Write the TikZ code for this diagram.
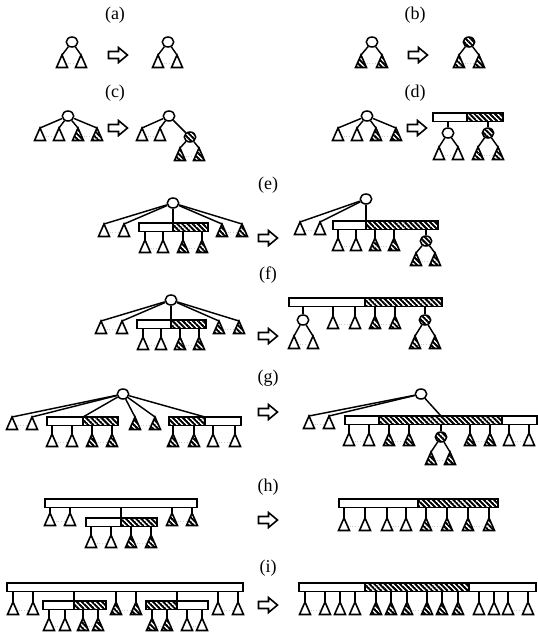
\documentclass[tikz,border=0pt]{standalone}
\usepackage{fontspec}
\setmainfont{Liberation Serif}
\usetikzlibrary{shapes.geometric,patterns.meta}
\tikzdeclarepattern{
  name=hatch,
  type=uncolored,
  bounding box={(0pt,-1pt) and (3.6pt,1pt)},
  tile size={(3.6pt,3.6pt)},
  tile transformation={rotate=-45},
  code={\pgfsetlinewidth{2pt}\pgfpathmoveto{\pgfqpoint{0pt}{0pt}}\pgfpathlineto{\pgfqpoint{3.6pt}{0pt}}\pgfusepath{stroke}}
}
\tikzset{
  tri/.style={line width=1.6pt, fill=white},
  htri/.style={line width=1.6pt, pattern=hatch},
  circ/.style={draw, ellipse, line width=1.5pt, minimum width=11.5pt, minimum height=10pt, inner sep=0pt, fill=white},
  hcirc/.style={circ, pattern=hatch},
  wbar/.style={draw, rectangle, line width=1.5pt, inner sep=0pt, outer sep=0pt, minimum height=8.5pt, fill=white},
  hbar/.style={wbar, pattern=hatch},
  edge/.style={line width=1.45pt},
  gap/.style={draw=gray!40, dotted, line width=0.7pt},
  lab/.style={font=\fontsize{18}{20}\selectfont, inner sep=0pt},
  blk/.style={line width=1.6pt, line join=miter, fill=white}
}
\newcommand\Tri[3]{\coordinate (#1) at (#2,#3); \draw[tri] (#1) -- ++(5.5,12.5) -- ++(-11,0) -- cycle;}
\newcommand\HTri[3]{\coordinate (#1) at (#2,#3); \draw[htri] (#1) -- ++(5.5,12.5) -- ++(-11,0) -- cycle;}
\newcommand\Gap[2]{\draw[gap] ([shift={(5.5,8.5)}]#1) -- ([shift={(-5.5,8.5)}]#2);}
\newcommand\Bar[5]{\node[#5, minimum width={(#3-#2)*1pt}, anchor=north west] (#1) at (#2,#4) {};}
\newcommand\E[2]{\draw[edge] (#1) -- (#2);}
\newcommand\V[2]{\draw[edge] (#1 |- #2.south) -- (#1);}
\newcommand\U[2]{\draw[edge] (#1) -- (#1 |- #2.north);}
\newcommand\Arr[3]{\coordinate (#1) at (#2,#3); \draw[blk] (#1) ++(-9.5,-3.5) -- ++(10,0) -- ++(0,-4) -- ++(9,7.5) -- ++(-9,7.5) -- ++(0,-4) -- ++(-10,0) -- cycle;}
\begin{document}
\begin{tikzpicture}[x=1pt,y=-1pt]
\useasboundingbox (0,0) rectangle (538,632);

% ---------- (a)
\node[lab] (La) at (115,15) {(a)};
\node[circ] (a1) at (72,42) {};
\E{a1}{62,55}\E{a1}{81,55}
\Tri{a1l}{62}{55}\Tri{a1r}{81}{55}\Gap{a1l}{a1r}
\Arr{arra}{118}{55}
\node[circ] (a2) at (168,42) {};
\E{a2}{158,55}\E{a2}{177,55}
\Tri{a2l}{158}{55}\Tri{a2r}{177}{55}\Gap{a2l}{a2r}

% ---------- (b)
\node[lab] (Lb) at (415,15) {(b)};
\node[circ] (b1) at (372,42) {};
\E{b1}{361,55}\E{b1}{382,55}
\HTri{b1l}{361}{55}\HTri{b1r}{382}{55}\Gap{b1l}{b1r}
\Arr{arrb}{418}{55}
\node[hcirc] (b2) at (469,42) {};
\E{b2}{459,55}\E{b2}{479,55}
\HTri{b2l}{459}{55}\HTri{b2r}{479}{55}\Gap{b2l}{b2r}

% ---------- (c)
\node[lab] (Lc) at (115,93) {(c)};
\node[circ] (c1) at (68,116) {};
\E{c1}{40,128}\E{c1}{59,128}\E{c1}{78,128}\E{c1}{97,128}
\Tri{c1a}{40}{128}\Tri{c1b}{59}{128}\HTri{c1c}{78}{128}\HTri{c1d}{97}{128}
\Gap{c1a}{c1b}\Gap{c1c}{c1d}
\Arr{arrc}{118}{128}
\node[circ] (c2) at (169,116) {};
\node[hcirc] (c2k) at (190,137) {};
\E{c2}{142,128}\E{c2}{160,128}\E{c2}{c2k}
\E{c2k}{180,148}\E{c2k}{199,148}
\Tri{c2a}{142}{128}\Tri{c2b}{160}{128}\HTri{c2c}{180}{148}\HTri{c2d}{199}{148}
\Gap{c2a}{c2b}\Gap{c2c}{c2d}

% ---------- (d)
\node[lab] (Ld) at (415,93) {(d)};
\node[circ] (d1) at (367,116) {};
\E{d1}{338,128}\E{d1}{357,128}\E{d1}{376,128}\E{d1}{396,128}
\Tri{d1a}{338}{128}\Tri{d1b}{357}{128}\HTri{d1c}{376}{128}\HTri{d1d}{396}{128}
\Gap{d1a}{d1b}\Gap{d1c}{d1d}
\Arr{arrd}{417}{128}
\Bar{d2W}{433}{467}{113}{wbar}\Bar{d2H}{467}{503}{113}{hbar}
\node[circ] (d2c) at (448,133) {};
\node[hcirc] (d2k) at (488,133) {};
\V{d2c}{d2W}\V{d2k}{d2H}
\E{d2c}{439,147}\E{d2c}{458,147}\E{d2k}{478,147}\E{d2k}{498,147}
\Tri{d2a}{439}{147}\Tri{d2b}{458}{147}\HTri{d2x}{478}{147}\HTri{d2y}{498}{147}
\Gap{d2a}{d2b}\Gap{d2x}{d2y}

% ---------- (e)
\node[lab] (Le) at (268,185) {(e)};
\node[circ] (e1) at (173,203) {};
\Bar{e1W}{139}{173}{223}{wbar}\Bar{e1H}{173}{208}{223}{hbar}
\U{e1}{e1H}
\E{e1}{104,224}\E{e1}{124,224}\E{e1}{222,224}\E{e1}{242,224}
\Tri{e1a}{104}{224}\Tri{e1b}{124}{224}\HTri{e1g}{222}{224}\HTri{e1h}{242}{224}
\coordinate (e1p) at (145,240);\coordinate (e1q) at (163,240);
\coordinate (e1r) at (183,240);\coordinate (e1s) at (202,240);
\V{e1p}{e1W}\V{e1q}{e1W}\V{e1r}{e1H}\V{e1s}{e1H}
\Tri{e1c}{145}{240}\Tri{e1d}{163}{240}\HTri{e1e}{183}{240}\HTri{e1f}{202}{240}
\Gap{e1a}{e1b}\Gap{e1c}{e1d}\Gap{e1e}{e1f}\Gap{e1g}{e1h}
\Arr{arre}{268}{238}
\node[circ] (e2) at (366,199) {};
\Bar{e2W}{333}{366}{221}{wbar}\Bar{e2H}{366}{438}{221}{hbar}
\U{e2}{e2H}
\E{e2}{300,222}\E{e2}{320,222}
\Tri{e2a}{300}{222}\Tri{e2b}{320}{222}
\coordinate (e2p) at (338,238);\coordinate (e2q) at (356,238);
\coordinate (e2r) at (375,238);\coordinate (e2s) at (394,238);
\V{e2p}{e2W}\V{e2q}{e2W}\V{e2r}{e2H}\V{e2s}{e2H}
\Tri{e2c}{338}{238}\Tri{e2d}{356}{238}\HTri{e2e}{375}{238}\HTri{e2f}{394}{238}
\node[hcirc] (e2k) at (426,241) {};
\V{e2k}{e2H}
\E{e2k}{416,253}\E{e2k}{435,253}
\HTri{e2g}{416}{253}\HTri{e2h}{435}{253}
\Gap{e2a}{e2b}\Gap{e2c}{e2d}\Gap{e2e}{e2f}\Gap{e2g}{e2h}

% ---------- (f)
\node[lab] (Lf) at (268,275) {(f)};
\node[circ] (f1) at (171,300) {};
\Bar{f1W}{137}{171}{320}{wbar}\Bar{f1H}{171}{206}{320}{hbar}
\U{f1}{f1H}
\E{f1}{101,321}\E{f1}{122,321}\E{f1}{219,321}\E{f1}{239,321}
\Tri{f1a}{101}{321}\Tri{f1b}{122}{321}\HTri{f1g}{219}{321}\HTri{f1h}{239}{321}
\coordinate (f1p) at (143,337);\coordinate (f1q) at (161,337);
\coordinate (f1r) at (180,337);\coordinate (f1s) at (199,337);
\V{f1p}{f1W}\V{f1q}{f1W}\V{f1r}{f1H}\V{f1s}{f1H}
\Tri{f1c}{143}{337}\Tri{f1d}{161}{337}\HTri{f1e}{180}{337}\HTri{f1f}{199}{337}
\Gap{f1a}{f1b}\Gap{f1c}{f1d}\Gap{f1e}{f1f}\Gap{f1g}{f1h}
\Arr{arrf}{268}{336}
\Bar{f2W}{289}{365}{298}{wbar}\Bar{f2H}{365}{442}{298}{hbar}
\node[circ] (f2c) at (303,320) {};
\node[hcirc] (f2k) at (425,320) {};
\V{f2c}{f2W}\V{f2k}{f2H}
\E{f2c}{294,336}\E{f2c}{313,336}\E{f2k}{415,336}\E{f2k}{435,336}
\Tri{f2a}{294}{336}\Tri{f2b}{313}{336}\HTri{f2g}{415}{336}\HTri{f2h}{435}{336}
\coordinate (f2p) at (333,316);\coordinate (f2q) at (355,316);
\coordinate (f2r) at (375,316);\coordinate (f2s) at (395,316);
\V{f2p}{f2W}\V{f2q}{f2W}\V{f2r}{f2H}\V{f2s}{f2H}
\Tri{f2c1}{333}{316}\Tri{f2d}{355}{316}\HTri{f2e}{375}{316}\HTri{f2f}{395}{316}
\Gap{f2a}{f2b}\Gap{f2c1}{f2d}\Gap{f2e}{f2f}\Gap{f2g}{f2h}

% ---------- (g)
\node[lab] (Lg) at (268,378) {(g)};
\node[circ] (g1) at (123,394) {};
\Bar{g1W}{47}{83}{417}{wbar}\Bar{g1H}{83}{118}{417}{hbar}
\Bar{g2H}{169}{205}{417}{hbar}\Bar{g2W}{205}{241}{417}{wbar}
\E{g1}{12,417}\E{g1}{32,417}\E{g1}{g1H.north west}
\E{g1}{135,417}\E{g1}{155,417}\E{g1}{g2W.north west}
\Tri{g1a}{12}{417}\Tri{g1b}{32}{417}\HTri{g1c}{135}{417}\HTri{g1d}{155}{417}
\coordinate (g1p) at (52,434);\coordinate (g1q) at (72,434);
\coordinate (g1r) at (92,434);\coordinate (g1s) at (112,434);
\coordinate (g1t) at (173,434);\coordinate (g1u) at (194,434);
\coordinate (g1v) at (213,434);\coordinate (g1w) at (235,434);
\V{g1p}{g1W}\V{g1q}{g1W}\V{g1r}{g1H}\V{g1s}{g1H}
\V{g1t}{g2H}\V{g1u}{g2H}\V{g1v}{g2W}\V{g1w}{g2W}
\Tri{g1e}{52}{434}\Tri{g1f}{72}{434}\HTri{g1g}{92}{434}\HTri{g1h}{112}{434}
\HTri{g1i}{173}{434}\HTri{g1j}{194}{434}\Tri{g1k}{213}{434}\Tri{g1l}{235}{434}
\Gap{g1a}{g1b}\Gap{g1c}{g1d}\Gap{g1e}{g1f}\Gap{g1g}{g1h}\Gap{g1i}{g1j}\Gap{g1k}{g1l}
\Arr{arrg}{268}{412}
\node[circ] (g2) at (421,394) {};
\Bar{g3W}{345}{379}{416}{wbar}\Bar{g3H}{379}{502}{416}{hbar}\Bar{g3V}{502}{537}{416}{wbar}
\node[hcirc] (g2k) at (441,437) {};
\E{g2}{309,416}\E{g2}{329,416}
\draw[edge] (g2) -- (g2k |- g3H.north);
\V{g2k}{g3H}
\Tri{g2a}{309}{416}\Tri{g2b}{329}{416}
\coordinate (g2p) at (349,433);\coordinate (g2q) at (369,433);
\coordinate (g2r) at (389,433);\coordinate (g2s) at (409,433);
\coordinate (g2t) at (470,433);\coordinate (g2u) at (490,433);
\coordinate (g2v) at (509,433);\coordinate (g2w) at (529,433);
\V{g2p}{g3W}\V{g2q}{g3W}\V{g2r}{g3H}\V{g2s}{g3H}
\V{g2t}{g3H}\V{g2u}{g3H}\V{g2v}{g3V}\V{g2w}{g3V}
\Tri{g2e}{349}{433}\Tri{g2f}{369}{433}\HTri{g2g}{389}{433}\HTri{g2h}{409}{433}
\HTri{g2i}{470}{433}\HTri{g2j}{490}{433}\Tri{g2m}{509}{433}\Tri{g2n}{529}{433}
\E{g2k}{431,452}\E{g2k}{450,452}
\HTri{g2x}{431}{452}\HTri{g2y}{450}{452}
\Gap{g2a}{g2b}\Gap{g2e}{g2f}\Gap{g2g}{g2h}\Gap{g2i}{g2j}\Gap{g2m}{g2n}\Gap{g2x}{g2y}

% ---------- (h)
\node[lab] (Lh) at (268,487) {(h)};
\Bar{h1B}{45}{197}{499}{wbar}
\Bar{h1W}{86}{121}{518}{wbar}\Bar{h1H}{121}{157}{518}{hbar}
\draw[edge] (h1H.north west) -- (h1H.north west |- h1B.south);
\coordinate (h1p) at (50,513);\coordinate (h1q) at (70,513);
\coordinate (h1r) at (172,513);\coordinate (h1s) at (192,513);
\V{h1p}{h1B}\V{h1q}{h1B}\V{h1r}{h1B}\V{h1s}{h1B}
\Tri{h1a}{50}{513}\Tri{h1b}{70}{513}\HTri{h1c}{172}{513}\HTri{h1d}{192}{513}
\coordinate (h1t) at (91,535);\coordinate (h1u) at (111,535);
\coordinate (h1v) at (131,535);\coordinate (h1w) at (151,535);
\V{h1t}{h1W}\V{h1u}{h1W}\V{h1v}{h1H}\V{h1w}{h1H}
\Tri{h1e}{91}{535}\Tri{h1f}{111}{535}\HTri{h1g}{131}{535}\HTri{h1h}{151}{535}
\Gap{h1a}{h1b}\Gap{h1c}{h1d}\Gap{h1e}{h1f}\Gap{h1g}{h1h}
\Arr{arrh}{268}{520}
\Bar{h2W}{339}{418}{499}{wbar}\Bar{h2H}{418}{498}{499}{hbar}
\foreach \n/\x in {p/344,q/365,r/387,s/406}{\coordinate (h2\n) at (\x,518); \V{h2\n}{h2W} \Tri{h2\n t}{\x}{518}}
\foreach \n/\x in {t/426,u/447,v/468,w/489}{\coordinate (h2\n) at (\x,518); \V{h2\n}{h2H} \HTri{h2\n t}{\x}{518}}
\Gap{h2pt}{h2qt}\Gap{h2rt}{h2st}\Gap{h2tt}{h2ut}\Gap{h2vt}{h2wt}

% ---------- (i)
\node[lab] (Li) at (268,568) {(i)};
\Bar{i1B}{7}{243}{583}{wbar}
\Bar{i1W}{43}{74}{601}{wbar}\Bar{i1H}{74}{106}{601}{hbar}
\Bar{i2H}{146}{177}{601}{hbar}\Bar{i2W}{177}{208}{601}{wbar}
\draw[edge] (i1H.north west) -- (i1H.north west |- i1B.south);
\draw[edge] (i2W.north west) -- (i2W.north west |- i1B.south);
\foreach \n/\x in {a/13,b/33,e/218,f/238}{\coordinate (i1\n) at (\x,602); \V{i1\n}{i1B} \Tri{i1\n t}{\x}{602}}
\foreach \n/\x in {c/116,d/136}{\coordinate (i1\n) at (\x,602); \V{i1\n}{i1B} \HTri{i1\n t}{\x}{602}}
\foreach \n/\x in {p/49,q/65}{\coordinate (i1\n) at (\x,618); \V{i1\n}{i1W} \Tri{i1\n t}{\x}{618}}
\foreach \n/\x in {r/83,s/98}{\coordinate (i1\n) at (\x,618); \V{i1\n}{i1H} \HTri{i1\n t}{\x}{618}}
\foreach \n/\x in {u/152,v/167}{\coordinate (i1\n) at (\x,618); \V{i1\n}{i2H} \HTri{i1\n t}{\x}{618}}
\foreach \n/\x in {w/187,y/202}{\coordinate (i1\n) at (\x,618); \V{i1\n}{i2W} \Tri{i1\n t}{\x}{618}}
\Gap{i1at}{i1bt}\Gap{i1ct}{i1dt}\Gap{i1et}{i1ft}\Gap{i1pt}{i1qt}\Gap{i1rt}{i1st}\Gap{i1ut}{i1vt}\Gap{i1wt}{i1yt}
\Arr{arri}{268}{605}
\Bar{i3W}{299}{365}{583}{wbar}\Bar{i3H}{365}{469}{583}{hbar}\Bar{i3V}{469}{536}{583}{wbar}
\foreach \n/\x in {a/305,b/325,c/340,d/355}{\coordinate (i3\n) at (\x,602); \V{i3\n}{i3W} \Tri{i3\n t}{\x}{602}}
\foreach \n/\x in {e/376,f/391,g/407,h/427,j/442,k/458}{\coordinate (i3\n) at (\x,602); \V{i3\n}{i3H} \HTri{i3\n t}{\x}{602}}
\foreach \n/\x in {l/479,m/494,o/508,q/528}{\coordinate (i3\n) at (\x,602); \V{i3\n}{i3V} \Tri{i3\n t}{\x}{602}}
\Gap{i3at}{i3bt}\Gap{i3gt}{i3ht}\Gap{i3ot}{i3qt}
\end{tikzpicture}
\end{document}
